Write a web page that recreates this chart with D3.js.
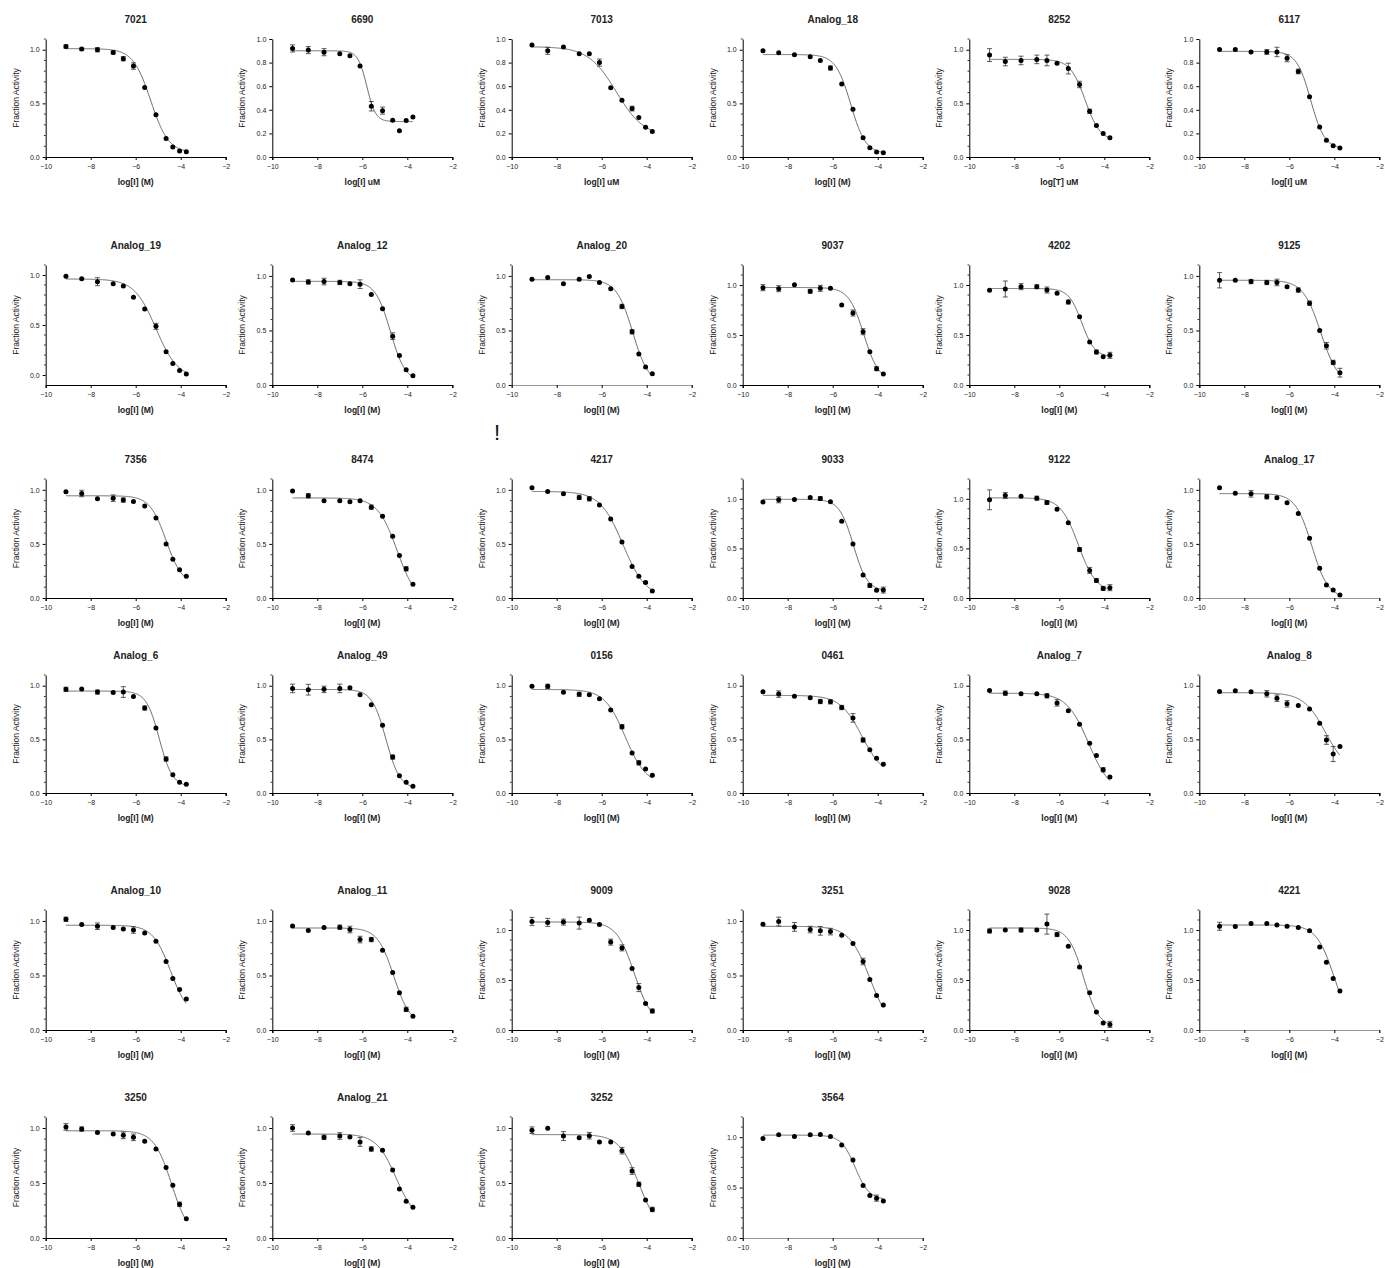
<!DOCTYPE html>
<html><head><meta charset="utf-8">
<script src="https://cdn.jsdelivr.net/npm/d3@7"></script>
<style>
body{margin:0;background:#fff;}
svg{display:block;font-family:"Liberation Sans",Arial,sans-serif;}
</style></head>
<body>
<svg id="chart" width="1385" height="1268"></svg>
<script>
// log concentrations (same dilution series for every compound)
const logConc = [-9.1, -8.4, -7.7, -7.0, -6.55, -6.1, -5.6, -5.1, -4.65, -4.35, -4.05, -3.75];

const compounds = ["7021","6690","7013","Analog_18","8252","6117",
  "Analog_19","Analog_12","Analog_20","9037","4202","9125",
  "7356","8474","4217","9033","9122","Analog_17",
  "Analog_6","Analog_49","0156","0461","Analog_7","Analog_8",
  "Analog_10","Analog_11","9009","3251","9028","4221",
  "3250","Analog_21","3252","3564"];

const xTitles = ["log[I] (M)","log[I] uM","log[I] uM","log[I] (M)","log[T] uM","log[I] uM",
  "log[I] (M)","log[I] (M)","log[I] (M)","log[I] (M)","log[I] (M)","log[I] (M)",
  "log[I] (M)","log[I] (M)","log[I] (M)","log[I] (M)","log[I] (M)","log[I] (M)",
  "log[I] (M)","log[I] (M)","log[I] (M)","log[I] (M)","log[I] (M)","log[I] (M)",
  "log[I] (M)","log[I] (M)","log[I] (M)","log[I] (M)","log[I] (M)","log[I] (M)",
  "log[I] (M)","log[I] (M)","log[I] (M)","log[I] (M)"];

// y-axis ranges [min, max] and major tick step
const yRanges = [[0,1.1],[0,1.0],[0,1.0],[0,1.1],[0,1.1],[0,1.0],
  [-0.1,1.1],[0,1.1],[0,1.1],[0,1.2],[0,1.2],[0,1.1],
  [0,1.1],[0,1.1],[0,1.1],[0,1.2],[0,1.2],[0,1.1],
  [0,1.1],[0,1.1],[0,1.1],[0,1.1],[0,1.1],[0,1.1],
  [0,1.1],[0,1.1],[0,1.2],[0,1.1],[0,1.2],[0,1.2],
  [0,1.1],[0,1.1],[0,1.1],[0,1.2]];
const yTickSteps = [0.5,0.2,0.2,0.5,0.5,0.2, 0.5,0.5,0.5,0.5,0.5,0.5,
  0.5,0.5,0.5,0.5,0.5,0.5, 0.5,0.5,0.5,0.5,0.5,0.5,
  0.5,0.5,0.5,0.5,0.5,0.5, 0.5,0.5,0.5,0.5];
const xTicks = [-10, -8, -6, -4, -2];

// fraction activity (mean) per compound, one value per concentration
const activity = [
  [1.03,1.006,1.0,0.975,0.916,0.848,0.647,0.393,0.173,0.093,0.056,0.05],
  [0.92,0.906,0.888,0.874,0.857,0.772,0.43,0.393,0.312,0.222,0.31,0.34],
  [0.949,0.90,0.933,0.876,0.874,0.80,0.587,0.48,0.41,0.334,0.253,0.216],
  [0.99,0.972,0.953,0.935,0.90,0.83,0.68,0.446,0.18,0.087,0.046,0.04],
  [0.95,0.89,0.90,0.91,0.90,0.873,0.824,0.676,0.426,0.293,0.219,0.179],
  [0.91,0.91,0.89,0.89,0.89,0.837,0.725,0.51,0.255,0.143,0.095,0.076],
  [0.987,0.963,0.933,0.913,0.89,0.778,0.661,0.487,0.232,0.114,0.044,0.01],
  [0.963,0.945,0.948,0.94,0.927,0.924,0.829,0.698,0.448,0.271,0.14,0.085],
  [0.969,0.985,0.929,0.969,0.994,0.939,0.883,0.72,0.488,0.285,0.166,0.104],
  [0.973,0.963,1.003,0.937,0.967,0.967,0.80,0.72,0.533,0.333,0.163,0.11],
  [0.947,0.96,0.983,0.983,0.95,0.917,0.83,0.683,0.43,0.33,0.283,0.297],
  [0.96,0.96,0.948,0.94,0.94,0.90,0.87,0.75,0.50,0.36,0.207,0.113],
  [0.982,0.966,0.917,0.923,0.905,0.893,0.85,0.74,0.50,0.359,0.26,0.202],
  [0.988,0.945,0.90,0.90,0.89,0.90,0.84,0.755,0.57,0.393,0.27,0.126],
  [1.02,0.985,0.963,0.93,0.917,0.86,0.73,0.518,0.291,0.202,0.144,0.064],
  [0.967,0.99,0.993,1.013,1.003,0.97,0.773,0.545,0.231,0.127,0.077,0.08],
  [0.99,1.033,1.027,1.007,0.963,0.896,0.759,0.488,0.278,0.177,0.097,0.104],
  [1.02,0.969,0.963,0.935,0.926,0.88,0.78,0.552,0.275,0.12,0.074,0.028],
  [0.966,0.969,0.941,0.938,0.941,0.90,0.792,0.606,0.317,0.171,0.10,0.081],
  [0.975,0.963,0.966,0.975,0.981,0.916,0.823,0.631,0.335,0.161,0.10,0.062],
  [0.994,0.994,0.939,0.92,0.917,0.878,0.774,0.618,0.373,0.281,0.223,0.165],
  [0.944,0.922,0.903,0.888,0.853,0.85,0.797,0.70,0.494,0.403,0.325,0.269],
  [0.956,0.931,0.925,0.925,0.906,0.84,0.766,0.641,0.463,0.35,0.216,0.15],
  [0.947,0.953,0.944,0.925,0.884,0.831,0.816,0.784,0.65,0.494,0.363,0.434],
  [1.015,0.966,0.951,0.939,0.926,0.917,0.89,0.813,0.629,0.472,0.371,0.285],
  [0.954,0.912,0.939,0.942,0.921,0.829,0.829,0.732,0.527,0.341,0.189,0.125],
  [1.086,1.076,1.079,1.069,1.097,1.055,0.879,0.821,0.614,0.424,0.266,0.19],
  [0.97,0.994,0.945,0.921,0.909,0.902,0.869,0.793,0.628,0.463,0.317,0.229],
  [0.99,1.0,1.0,1.0,1.059,0.954,0.838,0.63,0.373,0.18,0.07,0.056],
  [1.037,1.034,1.064,1.064,1.05,1.037,1.024,0.993,0.83,0.678,0.515,0.39],
  [1.01,0.99,0.96,0.945,0.933,0.915,0.879,0.81,0.642,0.48,0.306,0.174],
  [1.0,0.955,0.915,0.927,0.918,0.873,0.809,0.797,0.618,0.445,0.333,0.279],
  [0.98,0.997,0.927,0.912,0.93,0.873,0.873,0.794,0.609,0.488,0.345,0.26],
  [0.986,1.024,1.007,1.024,1.027,1.007,0.922,0.774,0.52,0.422,0.395,0.368]
];

// error bar half-widths (SD), 0 = not visible
const errors = [
  [0.015,0.01,0.02,0.015,0.02,0.03,0,0,0,0,0,0],
  [0.03,0.03,0.03,0,0,0,0.04,0.03,0,0,0,0],
  [0,0.03,0,0,0,0.03,0,0,0.02,0,0,0],
  [0,0,0,0,0,0.02,0,0,0,0,0,0],
  [0.06,0.04,0.04,0.04,0.05,0,0.05,0.03,0.02,0,0,0],
  [0,0,0,0.02,0.04,0.03,0.02,0,0,0,0,0],
  [0,0,0.04,0,0,0,0,0.03,0,0,0,0],
  [0,0.02,0.03,0.02,0,0.04,0,0,0.03,0,0,0],
  [0,0,0,0,0,0,0,0.02,0.02,0,0,0],
  [0.03,0.03,0,0.02,0.03,0,0,0.03,0.03,0,0.02,0],
  [0,0.08,0.03,0.02,0.03,0,0.02,0,0,0.02,0,0.03],
  [0.07,0,0.02,0.02,0.03,0,0.02,0.02,0,0.03,0.02,0.04],
  [0,0.03,0,0.03,0.02,0,0,0,0,0,0,0],
  [0,0.02,0,0,0,0,0.02,0,0,0,0.02,0],
  [0,0,0,0.02,0.02,0,0,0,0,0,0.01,0],
  [0,0.03,0,0,0.02,0,0,0,0,0.02,0,0.03],
  [0.1,0.03,0,0.02,0.02,0,0,0.02,0.03,0.02,0.02,0.03],
  [0,0,0.03,0.02,0,0,0,0,0,0,0,0],
  [0.02,0,0.02,0,0.05,0,0.02,0,0.02,0,0,0],
  [0.04,0.05,0.03,0.04,0,0,0,0,0.02,0,0,0],
  [0,0.02,0,0.02,0,0,0,0.02,0,0.02,0,0],
  [0,0.03,0,0,0.02,0.02,0.02,0.04,0.02,0,0,0],
  [0,0.02,0,0,0.02,0.03,0,0,0,0,0.02,0],
  [0,0,0,0.03,0.03,0.03,0,0,0,0.04,0.07,0],
  [0.02,0,0.03,0,0,0.03,0,0,0,0,0,0],
  [0,0,0,0.02,0.03,0.03,0.02,0,0,0,0.02,0],
  [0.04,0.04,0.03,0.06,0,0,0.03,0.03,0,0.04,0,0.02],
  [0,0.04,0.04,0.03,0.04,0.03,0,0,0.03,0,0,0],
  [0.02,0,0.02,0,0.1,0.02,0,0,0,0,0,0.03],
  [0.04,0,0,0,0,0,0,0,0,0,0,0],
  [0.03,0.02,0,0,0.03,0.03,0,0,0,0,0.02,0],
  [0.03,0,0.02,0.03,0,0.04,0.02,0,0,0,0,0],
  [0.03,0,0.04,0,0.03,0,0,0.03,0.03,0.02,0,0.02],
  [0,0,0,0,0,0,0,0,0,0,0.03,0]
];

// fitted 4-parameter logistic: [top, bottom, logIC50, hill]
const fits = [
  [1.01,0.04,-5.33,1.1],[0.90,0.30,-5.8,2.2],[0.935,0.17,-5.35,0.7],[0.955,0.03,-5.2,1.3],[0.91,0.15,-4.85,1.3],[0.895,0.07,-5.05,1.4],
  [0.96,-0.03,-5.1,0.9],[0.95,0.03,-4.75,1.3],[0.965,0,-4.62,1.2],[0.975,0.04,-4.62,1.3],[0.965,0.28,-5.0,1.5],[0.96,0,-4.6,1.1],
  [0.945,0.12,-4.65,1.2],[0.925,-0.05,-4.45,1.0],[0.985,0,-5.05,0.85],[0.995,0.07,-5.08,1.4],[1.01,0.06,-5.15,1.1],[0.965,0,-5.0,1.2],
  [0.95,0.06,-4.95,1.5],[0.965,0.04,-4.95,1.4],[0.965,0.08,-4.95,0.95],[0.91,0.15,-4.7,0.9],[0.93,0,-4.7,0.9],[0.935,0.2,-4.4,0.9],
  [0.96,0.12,-4.45,1.1],[0.935,0.05,-4.6,1.2],[1.08,0.05,-4.55,1.1],[0.95,0,-4.35,0.95],[1.02,0.03,-4.92,1.3],[1.05,0,-4.0,1.1],
  [0.975,0,-4.4,1.1],[0.945,0.15,-4.5,1.0],[0.94,0.05,-4.35,1.0],[1.02,0.38,-5.0,1.4]
];

// ---- layout ----
const colLeft = [45.7, 272.3, 511.7, 742.7, 969.3, 1199.3];
const plotW = 180;
const rowTop = [39, 265, 479, 675, 910, 1117];
const rowBottom = [157, 385, 598, 793, 1030, 1238];
const lightAxis = new Set(["Analog_20","Analog_17","4221","3564"]);

const svg = d3.select("#chart");

compounds.forEach((name, i) => {
  const r = Math.floor(i / 6), c = i % 6;
  const x0 = colLeft[c], top = rowTop[r], bottom = rowBottom[r];
  const x = d3.scaleLinear().domain([-10, -2]).range([x0, x0 + plotW]);
  const y = d3.scaleLinear().domain(yRanges[i]).range([bottom, top]);
  const g = svg.append("g");

  // title
  g.append("text").attr("x", x0 + plotW / 2).attr("y", top - 16)
    .attr("text-anchor", "middle").attr("font-size", 10).attr("font-weight", "bold")
    .attr("fill", "#222").text(name);

  // x axis
  const xa = g.append("g").attr("transform", `translate(0,${bottom})`)
    .call(d3.axisBottom(x).tickValues(xTicks).tickSize(3).tickFormat(d3.format("d")));
  xa.select(".domain").attr("stroke", lightAxis.has(name) ? "#999" : "#000").attr("stroke-width", 1.2);
  xa.selectAll(".tick line").attr("stroke", "#000");
  xa.selectAll("text").attr("font-size", 7).attr("fill", "#222").attr("dy", "0.9em")
    .attr("font-family", "'Liberation Sans',Arial,sans-serif");

  // y axis
  const step = yTickSteps[i];
  const maj = d3.range(0, yRanges[i][1] + 1e-6, step);
  const ya = g.append("g").attr("transform", `translate(${x0},0)`)
    .call(d3.axisLeft(y).tickValues(maj).tickSize(3).tickFormat(d3.format(".1f")).tickSizeOuter(0));
  ya.select(".domain").attr("stroke", "#000").attr("stroke-width", 1);
  ya.selectAll("text").attr("font-size", 7).attr("fill", "#222")
    .attr("font-family", "'Liberation Sans',Arial,sans-serif");
  if (step === 0.5) {
    const minor = d3.range(0, yRanges[i][1] + 1e-6, 0.1).filter(v => Math.abs(v / 0.5 - Math.round(v / 0.5)) > 1e-6);
    g.selectAll(null).data(minor).enter().append("line")
      .attr("x1", x0 - 1.8).attr("x2", x0).attr("y1", d => y(d)).attr("y2", d => y(d))
      .attr("stroke", "#000").attr("stroke-width", 0.8);
  }

  // axis titles
  g.append("text").attr("x", x0 + plotW / 2).attr("y", bottom + 28)
    .attr("text-anchor", "middle").attr("font-size", 8.5).attr("font-weight", "bold")
    .attr("fill", "#222").text(xTitles[i]);
  g.append("text").attr("transform", `translate(${x0 - 27},${(top + bottom) / 2}) rotate(-90)`)
    .attr("text-anchor", "middle").attr("font-size", 8.5).attr("fill", "#222")
    .text("Fraction Activity");

  // fitted curve
  const [tp, bt, ic, h] = fits[i];
  const curveX = d3.range(logConc[0], logConc[logConc.length - 1] + 1e-6, 0.02);
  const line = d3.line().x(d => x(d)).y(d => y(bt + (tp - bt) / (1 + Math.pow(10, (d - ic) * h))));
  g.append("path").datum(curveX).attr("d", line).attr("fill", "none")
    .attr("stroke", "#444").attr("stroke-width", 0.8);

  // error bars
  const pts = logConc.map((lc, k) => ({ lc, v: activity[i][k], e: errors[i][k] }));
  const eb = g.selectAll(null).data(pts.filter(p => p.e > 0)).enter().append("g")
    .attr("stroke", "#333").attr("stroke-width", 0.8);
  eb.append("line").attr("x1", d => x(d.lc)).attr("x2", d => x(d.lc))
    .attr("y1", d => y(d.v - d.e)).attr("y2", d => y(d.v + d.e));
  eb.append("line").attr("x1", d => x(d.lc) - 2.5).attr("x2", d => x(d.lc) + 2.5)
    .attr("y1", d => y(d.v + d.e)).attr("y2", d => y(d.v + d.e));
  eb.append("line").attr("x1", d => x(d.lc) - 2.5).attr("x2", d => x(d.lc) + 2.5)
    .attr("y1", d => y(d.v - d.e)).attr("y2", d => y(d.v - d.e));

  // points
  g.selectAll(null).data(pts).enter().append("circle")
    .attr("cx", d => x(d.lc)).attr("cy", d => y(d.v)).attr("r", 2.5).attr("fill", "#000");
});

// stray mark present in the reference
svg.append("text").attr("x", 497).attr("y", 440).attr("text-anchor", "middle")
  .attr("font-size", 22).attr("fill", "#111").text("!");
</script>
</body></html>
